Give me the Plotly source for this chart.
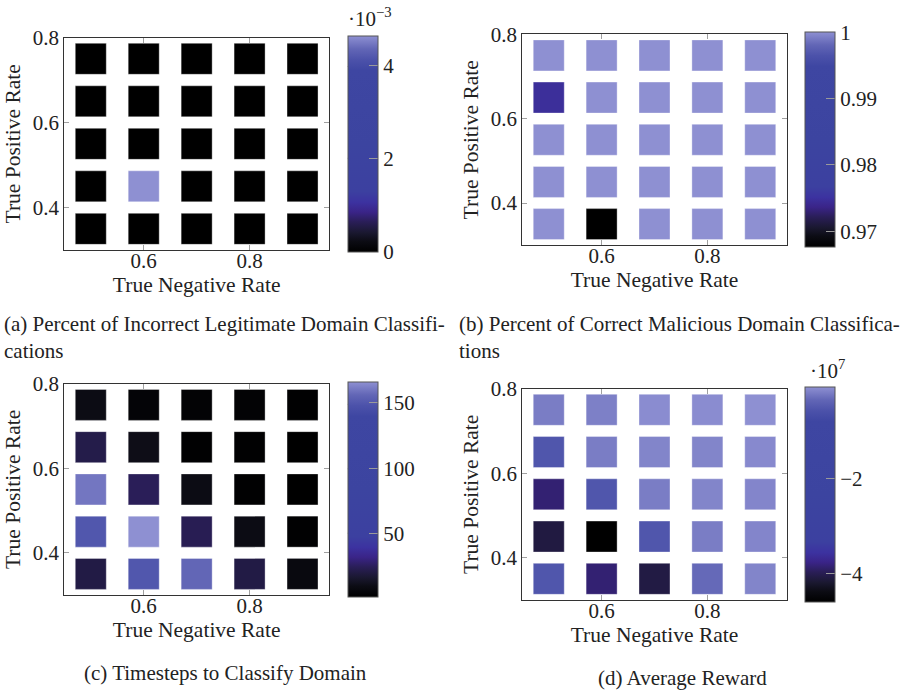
import plotly.graph_objects as go

# Grid of classifier operating points
tnr = [0.5, 0.6, 0.7, 0.8, 0.9]          # True Negative Rate (x)
tpr = [0.35, 0.45, 0.55, 0.65, 0.75]     # True Positive Rate (y), one row per entry

# (a) Percent of incorrect legitimate domain classifications, rows follow tpr
incorrect_legit = [
    [0, 0, 0, 0, 0],
    [0, 0.00463, 0, 0, 0],
    [0, 0, 0, 0, 0],
    [0, 0, 0, 0, 0],
    [0, 0, 0, 0, 0],
]

# (b) Percent of correct malicious domain classifications
correct_malicious = [
    [1.0, 0.96759, 1.0, 1.0, 1.0],
    [1.0, 1.0, 1.0, 1.0, 1.0],
    [1.0, 1.0, 1.0, 1.0, 1.0],
    [0.9747, 1.0, 1.0, 1.0, 1.0],
    [1.0, 1.0, 1.0, 1.0, 1.0],
]

# (c) Timesteps to classify a domain
timesteps = [
    [21, 150, 156, 21, 8],
    [150, 166, 24, 10, 3],
    [160, 25, 10, 3, 2],
    [22, 11, 3, 3, 2],
    [10, 5, 4, 4, 3],
]

# (d) Average reward
avg_reward = [
    [-0.53e7, -3.85e7, -4.07e7, -0.33e7, -0.15e7],
    [-4.09e7, -4.59e7, -0.53e7, -0.20e7, -0.145e7],
    [-3.85e7, -0.53e7, -0.20e7, -0.15e7, -0.145e7],
    [-0.53e7, -0.20e7, -0.15e7, -0.15e7, -0.12e7],
    [-0.20e7, -0.18e7, -0.10e7, -0.10e7, -0.077e7],
]

captions = [
    "(a) Percent of Incorrect Legitimate Domain Classifi-<br>cations",
    "(b) Percent of Correct Malicious Domain Classifica-<br>tions",
    "(c) Timesteps to Classify Domain",
    "(d) Average Reward",
]

cb_ticks = [
    ([0, 0.002, 0.004], ["0", "2", "4"]),
    ([0.97, 0.98, 0.99, 1.0], ["0.97", "0.98", "0.99", "1"]),
    ([50, 100, 150], ["50", "100", "150"]),
    ([-4e7, -2e7], ["\u22124", "\u22122"]),
]
cb_exponents = ["\u00b710<sup>\u22123</sup>", None, None, "\u00b710<sup>7</sup>"]

# dark -> purple -> blue -> lavender map
cmap = [
    [0.00, "#000000"],
    [0.05, "#0c0c14"],
    [0.09, "#1a1830"],
    [0.14, "#2a1e58"],
    [0.185, "#3a2488"],
    [0.23, "#3c32a0"],
    [0.28, "#3c40a0"],
    [0.50, "#3c44a0"],
    [0.84, "#3e46a2"],
    [0.89, "#4c52aa"],
    [0.94, "#6266b6"],
    [1.00, "#8e90d2"],
]

W, H = 914, 693
FONT = "Liberation Serif"
FS_TICK = 21
FS = 21.5
FS_CAP = 21
TEXT = "#222222"

# panel boxes in pixels: (left, right, top, bottom)
boxes = [
    (64.3, 329.0, 26.0, 242.3),
    (522.3, 786.7, 22.7, 237.3),
    (64.3, 329.0, 378.3, 593.3),
    (522.3, 786.7, 383.3, 598.3),
]
cb_left = [347.7, 805.0, 347.7, 805.0]
CB_W = 30

datasets = [incorrect_legit, correct_malicious, timesteps, avg_reward]

fig = go.Figure()
annotations = []
shapes = []

for i, (grid, box) in enumerate(zip(datasets, boxes)):
    l, r, t, b = box
    xs, ys, vs = [], [], []
    for yi, row in zip(tpr, grid):
        for xi, v in zip(tnr, row):
            xs.append(xi)
            ys.append(yi)
            vs.append(v)
    vmin, vmax = min(vs), max(vs)
    ax = "" if i == 0 else str(i + 1)
    tv, tt = cb_ticks[i]
    fig.add_trace(go.Scatter(
        x=xs, y=ys, mode="markers",
        xaxis="x" + ax, yaxis="y" + ax,
        hoverinfo="skip",
        marker=dict(
            symbol="square", size=31, color=vs, colorscale=cmap,
            cmin=vmin, cmax=vmax,
            line=dict(width=1, color="rgba(255,255,255,0.35)"),
            showscale=True,
            colorbar=dict(
                x=cb_left[i] / W, xanchor="left", xref="paper",
                y=1 - (t + b) / 2 / H, yanchor="middle", yref="paper",
                len=b - t, lenmode="pixels",
                thickness=CB_W, thicknessmode="pixels",
                xpad=0, ypad=0,
                outlinewidth=1, outlinecolor="#555555",
                ticks="inside", ticklen=9, tickcolor="#9a9a9a", tickwidth=1,
                tickvals=tv, ticktext=tt,
                tickfont=dict(family=FONT, size=FS_TICK, color=TEXT),
            ),
        ),
    ))
    # matching tick dashes on the left edge of the colour bar
    for v in tv:
        frac = (v - vmin) / (vmax - vmin)
        yp = 1 - (b - frac * (b - t)) / H
        shapes.append(dict(
            type="line", xref="paper", yref="paper",
            x0=cb_left[i] / W, x1=(cb_left[i] + 9) / W, y0=yp, y1=yp,
            line=dict(color="#9a9a9a", width=1),
        ))
    dom_x = [l / W, r / W]
    dom_y = [1 - b / H, 1 - t / H]
    common = dict(
        showgrid=False, zeroline=False, showline=True, linecolor="#333333",
        linewidth=1, mirror="ticks", ticks="inside", ticklen=5,
        tickcolor="#a0a0a0", tickformat=".1f",
        tickfont=dict(family=FONT, size=FS_TICK, color=TEXT),
        title_font=dict(family=FONT, size=FS, color=TEXT),
    )
    fig.layout["xaxis" + ax] = dict(
        common, domain=dom_x, range=[0.45, 0.95], tick0=0, dtick=0.2,
        anchor="y" + ax, ticklabelstandoff=-8,
        title=dict(text="True Negative Rate", standoff=0),
    )
    fig.layout["yaxis" + ax] = dict(
        common, domain=dom_y, range=[0.3, 0.8], tick0=0, dtick=0.2,
        anchor="x" + ax, title=dict(text="True Positive Rate", standoff=6),
    )
    if cb_exponents[i]:
        annotations.append(dict(
            x=(cb_left[i] + 22) / W, y=1 - (t - 20) / H, xref="paper", yref="paper",
            text=cb_exponents[i], showarrow=False, xanchor="center", yanchor="middle",
            font=dict(family=FONT, size=FS_TICK, color=TEXT),
        ))

# captions under the panels
caps = [
    dict(x=2 / W, y=1 - 303 / H, text=captions[0], align="left", xanchor="left", yanchor="top"),
    dict(x=457 / W, y=1 - 303 / H, text=captions[1], align="left", xanchor="left", yanchor="top"),
    dict(x=225 / W, y=1 - 673 / H, text=captions[2], xanchor="center", yanchor="middle"),
    dict(x=682.5 / W, y=1 - 678 / H, text=captions[3], xanchor="center", yanchor="middle"),
]
for a in caps:
    a.update(xref="paper", yref="paper", showarrow=False,
             font=dict(family=FONT, size=FS_CAP, color=TEXT))
annotations += caps

fig.update_layout(
    width=W, height=H, autosize=False,
    margin=dict(l=0, r=0, t=0, b=0),
    paper_bgcolor="white", plot_bgcolor="white",
    showlegend=False, annotations=annotations, shapes=shapes,
)

fig.write_html("out.html")
